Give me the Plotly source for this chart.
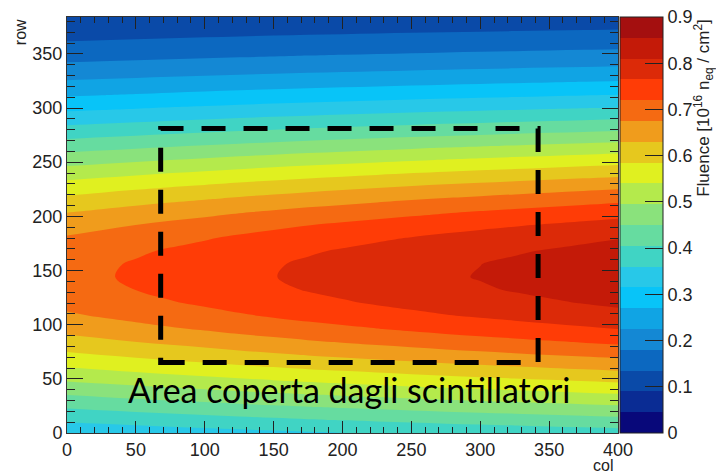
import numpy as np
import plotly.graph_objects as go

# Sampling positions of the fluence map
cols = [0, 25, 50, 75, 100, 125, 150, 175, 200, 225, 250, 275, 300, 325, 350, 375, 400]
rows = [0, 12, 24, 36, 48, 60, 72, 84, 96, 108, 120, 132, 144, 156, 168, 180,
        192, 204, 216, 228, 240, 252, 264, 276, 288, 300, 312, 324, 336, 348,
        360, 372, 384]

# Peak fluence along each column (10^16 n_eq / cm^2)
peak_fluence = [0.706, 0.716, 0.726, 0.736, 0.745, 0.755, 0.764, 0.773, 0.781,
                0.789, 0.797, 0.805, 0.812, 0.819, 0.826, 0.833, 0.840]

# Relative fluence profile across the rows
row_profile = [0.460, 0.520, 0.581, 0.642, 0.703, 0.762, 0.817, 0.867, 0.911,
               0.947, 0.974, 0.992, 1.000, 0.997, 0.984, 0.962, 0.930, 0.890,
               0.843, 0.790, 0.733, 0.673, 0.612, 0.550, 0.490, 0.431, 0.376,
               0.325, 0.277, 0.234, 0.196, 0.162, 0.133]

# 20-step palette, 0 -> 0.9
palette = ["#08087a", "#0a2c94", "#0a4aa8", "#0c68c0", "#1488d4", "#10a4e4",
           "#08c4f8", "#28c8e8", "#40d4c4", "#66dca0", "#8ae27c", "#b4ea4c",
           "#e0f020", "#e6c81e", "#f09c1c", "#f56a12", "#ff3c06", "#dc2a08",
           "#c41a08", "#a40f0f"]
cbar_ticks = [0, 0.1, 0.2, 0.3, 0.4, 0.5, 0.6, 0.7, 0.8, 0.9]
cbar_labels = ["0", "0.1", "0.2", "0.3", "0.4", "0.5", "0.6", "0.7", "0.8", "0.9"]

# Scintillator coverage (col / row limits)
scint_cols = [68, 342]
scint_rows = [65, 281]

z = np.outer(row_profile, peak_fluence)

n = len(palette)
colorscale = []
for i, c in enumerate(palette):
    colorscale.append([i / n, c])
    colorscale.append([(i + 1) / n, c])

FONT = "Liberation Sans, Arial, sans-serif"

fig = go.Figure(go.Contour(
    x=cols, y=rows, z=z,
    zmin=0, zmax=0.9,
    autocontour=False,
    contours=dict(start=0, end=0.9, size=0.045, coloring="fill", showlines=False),
    line=dict(width=0, smoothing=1),
    colorscale=colorscale,
    colorbar=dict(
        x=1.004, xanchor="left", xpad=0, ypad=0,
        y=0.5, yanchor="middle", len=1, lenmode="fraction",
        thickness=43, thicknessmode="pixels",
        outlinewidth=1, outlinecolor="#222",
        ticks="inside", ticklen=18, tickwidth=1, tickcolor="#222",
        tickvals=cbar_ticks, ticktext=cbar_labels,
        tickfont=dict(family=FONT, size=18, color="#222"),
    ),
    hoverinfo="skip",
))

fig.add_shape(type="rect", xref="x", yref="y",
              x0=scint_cols[0], x1=scint_cols[1], y0=scint_rows[0], y1=scint_rows[1],
              line=dict(color="black", width=5, dash="24px,18px"))

fig.add_annotation(text="Area coperta dagli scintillatori", xref="paper", yref="paper",
                   x=0.512, y=0.05, showarrow=False,
                   font=dict(family="Lato, Open Sans, sans-serif", size=34, color="black"))

fig.add_annotation(text="Fluence [10<sup>16</sup> n<sub>eq</sub> / cm<sup>2</sup>]",
                   xref="paper", yref="paper", x=1.154, y=1.0, xanchor="center",
                   yanchor="top", textangle=-90, showarrow=False,
                   font=dict(family=FONT, size=17, color="#222"))
fig.add_annotation(text="row", xref="paper", yref="paper", x=-0.085, y=1.0,
                   xanchor="center", yanchor="top", textangle=-90, showarrow=False,
                   font=dict(family=FONT, size=16, color="#222"))
fig.add_annotation(text="col", xref="paper", yref="paper", x=0.995, y=-0.077,
                   xanchor="right", yanchor="middle", showarrow=False,
                   font=dict(family=FONT, size=16, color="#222"))

axis_common = dict(showgrid=False, zeroline=False, showline=True, linecolor="#333",
                   linewidth=1, mirror="ticks", ticks="inside", tickwidth=1,
                   tickcolor="#222", tick0=0, dtick=50,
                   tickfont=dict(family=FONT, size=18, color="#222"))

fig.update_xaxes(range=[0, 400], ticklen=12,
                 minor=dict(dtick=10, ticks="inside", ticklen=6, tickcolor="#222"),
                 **axis_common)
fig.update_yaxes(range=[0, 384], ticklen=16,
                 minor=dict(dtick=10, ticks="inside", ticklen=8, tickcolor="#222"),
                 **axis_common)

fig.update_layout(width=716, height=473,
                  margin=dict(l=67, r=98, t=17, b=40, autoexpand=False),
                  paper_bgcolor="white", plot_bgcolor="white", showlegend=False)

fig.write_html("out.html")
